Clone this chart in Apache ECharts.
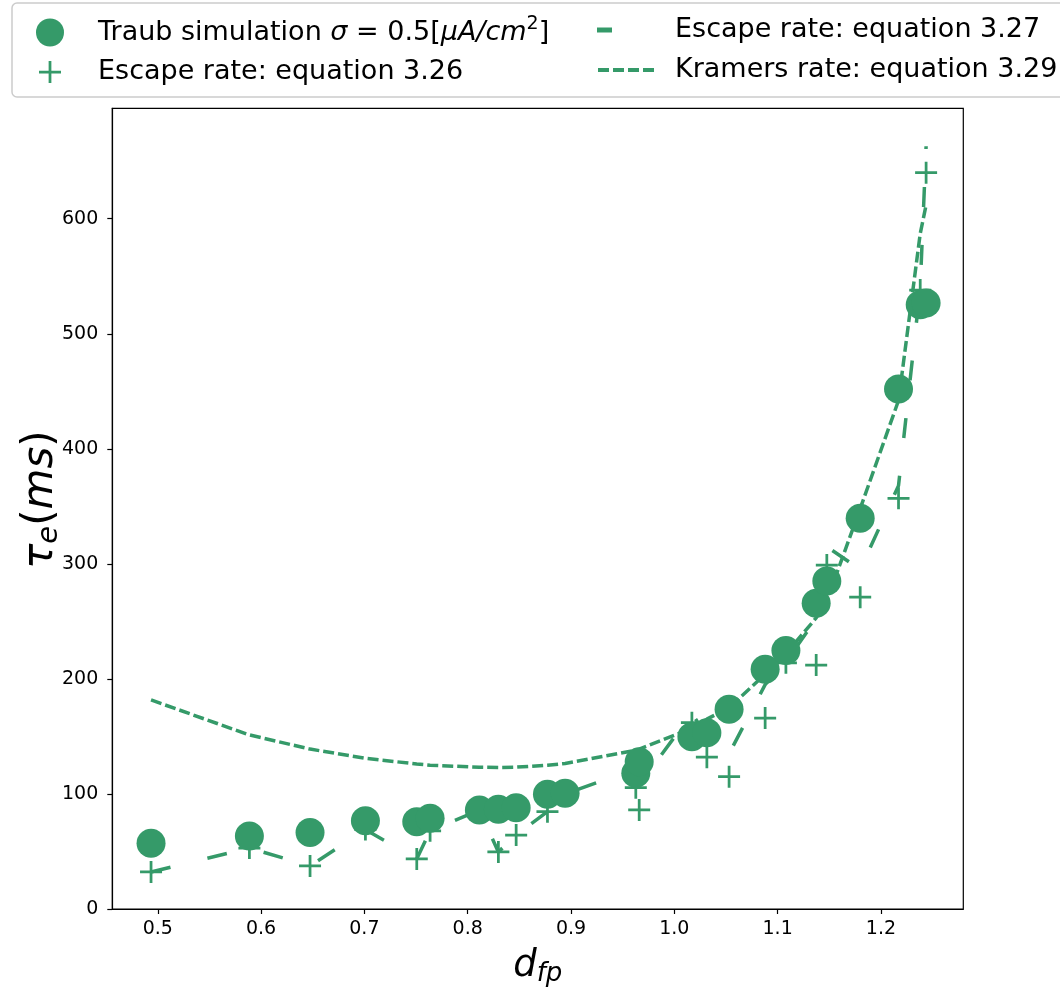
<!DOCTYPE html>
<html>
<head>
<meta charset="utf-8">
<script src="https://cdn.jsdelivr.net/npm/echarts@6/dist/echarts.min.js"></script>
<style>
  html, body { margin: 0; padding: 0; background: #fff; }
  #chart { width: 1060px; height: 999px; }
</style>
</head>
<body>
<div id="chart"></div>
<script>
// ---- data ----
const dfp = [0.4935, 0.5887, 0.6474, 0.701, 0.7507, 0.7636, 0.8113, 0.8297, 0.8469, 0.8772, 0.8943, 0.9627, 0.966, 1.017, 1.0315, 1.053, 1.0879, 1.108, 1.1373, 1.1476, 1.1799, 1.217, 1.238, 1.2437];
const traubSim = [57.1, 63.5, 66.4, 76.8, 75.9, 78.9, 86.1, 86.7, 88.1, 99.7, 100.6, 118, 128, 149.8, 153.3, 173.6, 208.4, 224.6, 265.8, 285.2, 339.7, 451.9, 525.2, 526.7];
const escape326 = [32.2, 53, 37.4, 69, 43.5, 68, 86, 49.6, 64.3, 84.6, 100, 105.5, 86.1, 162, 132, 115, 166, 214, 212, 299, 271, 357, 538, 640];
const escape327 = [32.2, 53, 37.4, 69, 43.5, 68, 86, 49.6, 64.3, 84.6, 100, 122, 108, 170, 150, 135, 195, 215, 252, 315, 295, 368, 540, 663];
const kramers329 = [181.7, 151.3, 139, 131, 126, 125, 123.2, 123, 123.3, 125, 126.5, 138, 139, 157, 165, 175, 204, 222, 253, 268, 348, 442, 587, 612];
const xTicks = [0.5, 0.6, 0.7, 0.8, 0.9, 1.0, 1.1, 1.2];
const yTicks = [0, 100, 200, 300, 400, 500, 600];

const names = {
  traub: 'Traub simulation',
  e326: 'Escape rate: equation 3.26',
  e327: 'Escape rate: equation 3.27',
  k329: 'Kramers rate: equation 3.29'
};

const GREEN = '#359a69';
const FONT = 'DejaVu Sans';
const pair = arr => dfp.map((d, i) => [d, arr[i]]);
const PLUS = 'path://M8.75,0H11.25V8.75H20V11.25H11.25V20H8.75V11.25H0V8.75H8.75Z';
const DOTS = 'path://M0,0h11v4h-11z M15,0h11v4h-11z M30,0h11v4h-11z M45,0h11v4h-11z';

const LFS = 27;
const legText = {
  fontFamily: FONT, fontSize: LFS, color: '#000', lineHeight: 30,
  rich: {
    n: { fontFamily: FONT, fontSize: LFS, color: '#000', lineHeight: 30 },
    m: { fontFamily: FONT, fontSize: LFS, color: '#000', fontStyle: 'italic', lineHeight: 30 },
    s: { fontFamily: FONT, fontSize: 19, color: '#000', lineHeight: 30, padding: [0, 0, 16, 0] }
  }
};
function legend(name, icon, left, cy, w, h, textStart, formatter) {
  return {
    data: [{ name: name, icon: icon }],
    left: left, top: cy - 15, padding: 0,
    itemWidth: w, itemHeight: h, selectedMode: false,
    itemStyle: { borderWidth: 0 },
    formatter: formatter,
    textStyle: Object.assign({}, legText, { padding: [0, 0, 0, textStart - (left + w + 5)] })
  };
}

const chart = echarts.init(document.getElementById('chart'), null, { renderer: 'canvas' });
chart.setOption({
  animation: false,
  backgroundColor: '#fff',
  graphic: [{
    type: 'rect', z: -1,
    shape: { x: 12, y: 3, width: 1080, height: 94, r: 5 },
    style: { fill: '#fff', stroke: '#cccccc', lineWidth: 1.5 }
  }],
  legend: [
    legend(names.traub, 'circle', 36, 30, 28, 28, 98,
      () => '{n|Traub simulation }{m|σ}{n| = 0.5[}{m|μA/cm}{s|2}{n|]}'),
    legend(names.e326, PLUS, 39, 72, 22, 22, 98, null),
    legend(names.e327, 'rect', 597, 30, 15, 5, 675, null),
    legend(names.k329, DOTS, 598, 70, 56, 4, 675, null)
  ],
  grid: { left: 112.3, right: 96.7, top: 108.3, bottom: 90, show: true, borderColor: '#000', borderWidth: 1.2, backgroundColor: 'transparent' },
  xAxis: {
    type: 'value', min: 0.456, max: 1.2797,
    axisLine: { show: true, lineStyle: { color: '#000', width: 1.2 } },
    axisTick: { show: true, length: 5, customValues: xTicks, lineStyle: { color: '#000', width: 1.2 } },
    axisLabel: { customValues: xTicks, formatter: v => v.toFixed(1), fontFamily: FONT, fontSize: 19, color: '#000', margin: 11 },
    splitLine: { show: false },
    name: '{i|d}{sub|fp}', nameLocation: 'middle', nameGap: 36,
    nameTextStyle: {
      rich: {
        i: { fontFamily: FONT, fontSize: 37, fontStyle: 'italic', color: '#000' },
        sub: { fontFamily: FONT, fontSize: 26, fontStyle: 'italic', color: '#000', padding: [16, 0, 0, 0] }
      }
    }
  },
  yAxis: {
    type: 'value', min: 0, max: 696,
    axisLine: { show: true, lineStyle: { color: '#000', width: 1.2 } },
    axisTick: { show: true, length: 5, customValues: yTicks, lineStyle: { color: '#000', width: 1.2 } },
    axisLabel: { customValues: yTicks, fontFamily: FONT, fontSize: 19, color: '#000', margin: 14 },
    splitLine: { show: false },
    name: '{i|τ}{sub|e}{n|(}{i|ms}{n|)}', nameLocation: 'middle', nameGap: 48, nameRotate: 90,
    nameMoveOverlap: false,
    nameTextStyle: {
      padding: [0, 0, 0, 18],
      rich: {
        i: { fontFamily: FONT, fontSize: 42, fontStyle: 'italic', color: '#000' },
        n: { fontFamily: FONT, fontSize: 42, color: '#000' },
        sub: { fontFamily: FONT, fontSize: 29, fontStyle: 'italic', color: '#000', padding: [18, 0, 0, 0] }
      }
    }
  },
  series: [
    {
      name: names.k329, type: 'line', data: pair(kramers329), z: 2,
      symbol: 'none', showSymbol: false, color: GREEN,
      lineStyle: { color: GREEN, width: 3.5, type: [11, 4] }
    },
    {
      name: names.e327, type: 'line', data: pair(escape327), z: 3,
      symbol: 'none', showSymbol: false, color: GREEN,
      lineStyle: { color: GREEN, width: 3.5, type: [20, 38] }
    },
    {
      name: names.e326, type: 'scatter', data: pair(escape326), z: 4,
      symbol: PLUS, symbolSize: 22, color: GREEN,
      itemStyle: { color: GREEN, opacity: 1 }
    },
    {
      name: names.traub, type: 'scatter', data: pair(traubSim), z: 5,
      symbol: 'circle', symbolSize: 29, color: GREEN,
      itemStyle: { color: GREEN, opacity: 1 }
    }
  ]
});
</script>
</body>
</html>
